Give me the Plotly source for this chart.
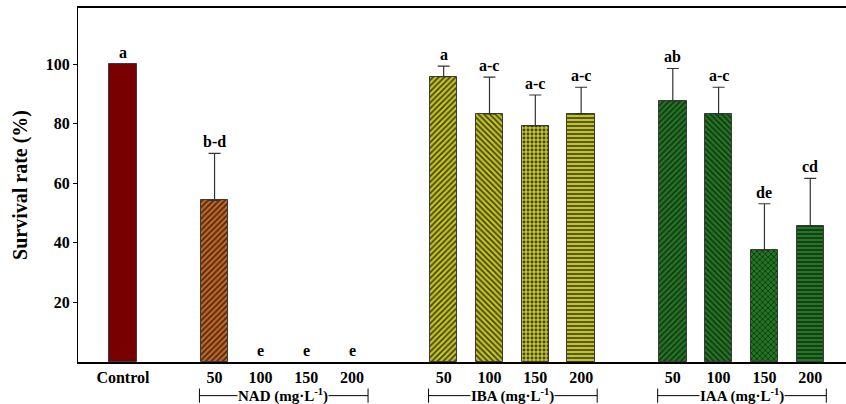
import plotly.graph_objects as go

positions = [0, 2, 3, 4, 5, 7, 8, 9, 10, 12, 13, 14, 15]
tick_labels = ["Control", "50", "100", "150", "200", "50", "100", "150", "200", "50", "100", "150", "200"]
survival = [100, 54.2, 0, 0, 0, 95.8, 83.3, 79.2, 83.3, 87.5, 83.3, 37.5, 45.8]
errors = [0, 15.8, 0, 0, 0, 3.5, 12.3, 10.4, 8.9, 11.0, 8.9, 15.6, 15.8]
letters = ["a", "b-d", "e", "e", "e", "a", "a-c", "a-c", "a-c", "ab", "a-c", "de", "cd"]
fill_colors = ["#780000", "#C8641E", "#C8641E", "#C8641E", "#C8641E",
               "#C4C41C", "#C4C41C", "#C4C41C", "#C4C41C",
               "#1E7A1E", "#1E7A1E", "#1E7A1E", "#1E7A1E"]
patterns = ["", "/", "/", "/", "/", "/", "\\", ".", "-", "/", "\\", "x", "-"]
groups = ["NAD", "IBA", "IAA"]
group_pos = [[2, 5], [7, 10], [12, 15]]

FONT = "Liberation Serif, Times New Roman, serif"

fig = go.Figure()
for p, v, e, c, pat in zip(positions, survival, errors, fill_colors, patterns):
    fig.add_trace(go.Bar(
        x=[p], y=[v], width=0.6,
        marker=dict(
            color=c,
            line=dict(color="#3a3a3a", width=1 if v > 0 else 0),
            pattern=dict(shape=pat, fillmode="replace", bgcolor=c, fgcolor="#1a1a1a",
                         fgopacity=0.8, size=4, solidity=0.4),
        ),
        error_y=dict(type="data", array=[e], arrayminus=[0], symmetric=False,
                     color="#333333", thickness=1.2, width=6, visible=e > 0),
        showlegend=False,
    ))

annotations = []
for p, v, e, t in zip(positions, survival, errors, letters):
    annotations.append(dict(x=p, y=v + e, text="<b>%s</b>" % t, showarrow=False,
                            yanchor="bottom", yshift=1,
                            font=dict(family=FONT, size=16, color="black")))

shapes = []
ly = -0.095
for g, (a, b) in zip(groups, group_pos):
    x0, x1 = a - 0.33, b + 0.35
    shapes.append(dict(type="line", xref="x", yref="paper", x0=x0, x1=x1, y0=ly, y1=ly,
                       line=dict(color="black", width=1)))
    for xx in (x0, x1):
        shapes.append(dict(type="line", xref="x", yref="paper", x0=xx, x1=xx,
                           y0=ly - 0.02, y1=ly + 0.02, line=dict(color="black", width=1)))
    annotations.append(dict(x=(a + b) / 2, y=ly, xref="x", yref="paper",
                            text="<b>%s (mg·L<sup>-1</sup>)</b>" % g, showarrow=False,
                            bgcolor="white", borderpad=0, yanchor="middle",
                            font=dict(family=FONT, size=15, color="black")))

fig.update_layout(
    width=846, height=404,
    margin=dict(l=78, r=0, t=8, b=42),
    plot_bgcolor="white", paper_bgcolor="white",
    annotations=annotations, shapes=shapes,
    font=dict(family=FONT, color="black"),
    barmode="overlay", bargap=0,
)
fig.update_xaxes(range=[-0.98, 15.78], tickvals=positions,
                 ticktext=["<b>%s</b>" % t for t in tick_labels],
                 tickfont=dict(family=FONT, size=16, color="black"),
                 showline=True, linecolor="black", linewidth=1.5, mirror=True,
                 ticks="", showgrid=False, zeroline=False, automargin=False)
fig.update_yaxes(range=[0, 118.8], tickvals=[20, 40, 60, 80, 100],
                 ticktext=["<b>%d</b>" % v for v in [20, 40, 60, 80, 100]],
                 tickfont=dict(family=FONT, size=16, color="black"),
                 showline=True, linecolor="black", linewidth=1, mirror=False,
                 ticks="outside", ticklen=4, tickcolor="black",
                 showgrid=False, zeroline=False, automargin=False,
                 title=dict(text="<b>Survival rate (%)</b>", standoff=12,
                            font=dict(family=FONT, size=20, color="black")))

fig.write_html("out.html", config={"displayModeBar": False},
               post_script="document.body.style.margin='0';document.body.style.overflow='hidden';")
